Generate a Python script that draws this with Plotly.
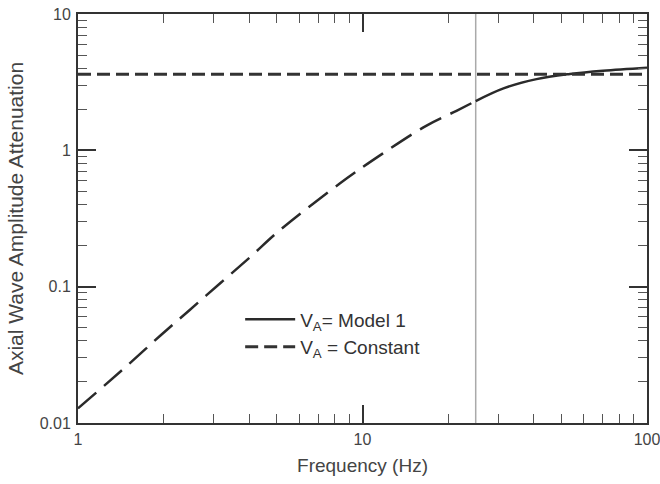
import plotly.graph_objects as go

# Curve values
freq_low = [1, 1.52, 1.94, 2.47, 3.19, 4.07, 5.05, 8.34, 11.8, 16.8, 21.4, 25]
amp_low = [0.0128, 0.0274, 0.0435, 0.0675, 0.1077, 0.168, 0.253, 0.573, 0.95, 1.52, 1.95, 2.30]
freq_high = [25, 31.3, 40.9, 53.6, 70, 100]
amp_high = [2.30, 2.85, 3.33, 3.63, 3.84, 4.04]
const_freq = [1, 100]
const_amp = [3.61, 3.61]
cutoff_freq = 25

x_ticks = [1, 10, 100]
x_ticklabels = ["1", "10", "100"]
y_ticks = [0.01, 0.1, 1, 10]
y_ticklabels = ["0.01", "0.1", "1", "10"]
x_minor = [2, 3, 4, 5, 6, 7, 8, 9, 20, 30, 40, 50, 60, 70, 80, 90]
y_minor = [0.02, 0.03, 0.04, 0.05, 0.06, 0.07, 0.08, 0.09,
           0.2, 0.3, 0.4, 0.5, 0.6, 0.7, 0.8, 0.9,
           2, 3, 4, 5, 6, 7, 8, 9]

ink = "#2a2a2a"
fig = go.Figure()

fig.add_trace(go.Scatter(x=freq_low, y=amp_low, mode="lines", showlegend=False,
                         line=dict(color=ink, width=2.5, dash="24px,10px", shape="spline")))
fig.add_trace(go.Scatter(x=freq_high, y=amp_high, mode="lines", name="V<sub>A</sub>= Model 1",
                         line=dict(color=ink, width=2.5, shape="spline")))
fig.add_trace(go.Scatter(x=const_freq, y=const_amp, mode="lines", name="V<sub>A</sub> = Constant",
                         line=dict(color="#333333", width=3, dash="13px,6px")))

fig.add_shape(type="line", x0=cutoff_freq, x1=cutoff_freq, y0=0, y1=1, xref="x", yref="paper",
              line=dict(color="#aaaaaa", width=1.5), layer="below")

axis_common = dict(
    showline=True, linecolor="#333333", linewidth=2, mirror="ticks",
    ticks="inside", ticklen=18, tickwidth=1.5, tickcolor="#333333",
    showgrid=False, zeroline=False, automargin=False, ticklabeloverflow="allow",
    tickfont=dict(family="Arial", size=16, color="#444444"),
)

fig.update_xaxes(type="log", range=[0, 2], tickvals=x_ticks, ticktext=x_ticklabels,
                 ticklabelstandoff=1,
                 minor=dict(tickvals=x_minor, ticks="inside", ticklen=9, tickwidth=1.2,
                            tickcolor="#555555", showgrid=False),
                 title=dict(text="Frequency (Hz)", font=dict(family="Arial", size=19, color="#444444"),
                            standoff=11),
                 **axis_common)
fig.update_yaxes(type="log", range=[-2, 1], tickvals=y_ticks, ticktext=y_ticklabels,
                 ticklabelstandoff=2,
                 minor=dict(tickvals=y_minor, ticks="inside", ticklen=9, tickwidth=1.2,
                            tickcolor="#555555", showgrid=False),
                 title=dict(text="Axial Wave Amplitude Attenuation",
                            font=dict(family="Arial", size=21, color="#444444"), standoff=10),
                 **axis_common)

fig.update_layout(
    width=660, height=484,
    margin=dict(l=78, r=13, t=14, b=61),
    paper_bgcolor="white", plot_bgcolor="white",
    showlegend=True,
    legend=dict(x=0.285, y=0.30, xanchor="left", yanchor="top",
                bgcolor="rgba(0,0,0,0)", itemwidth=50,
                font=dict(family="Arial", size=19, color="#333333")),
)

fig.write_html("out.html", config={"displayModeBar": False},
               post_script="document.body.style.margin='0';")
